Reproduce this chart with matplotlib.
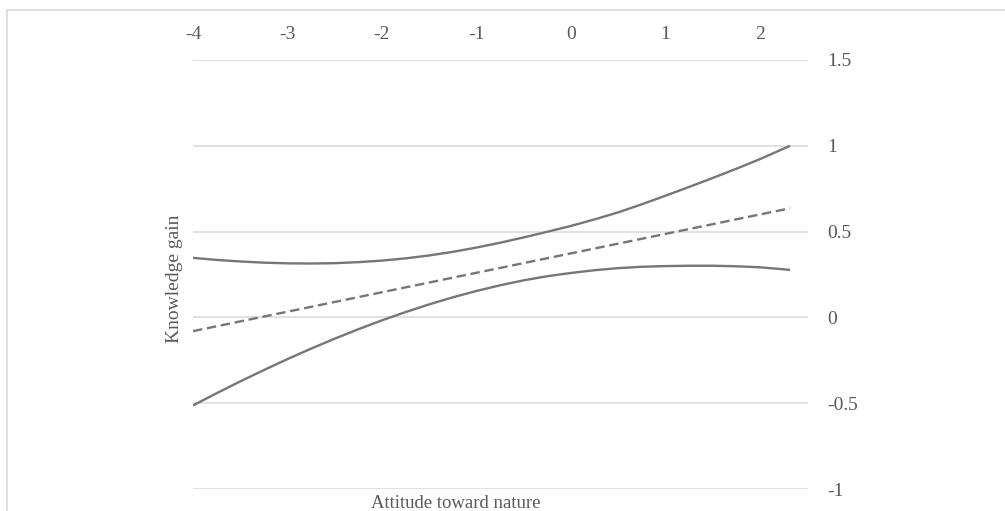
import matplotlib
matplotlib.use("Agg")
import matplotlib.pyplot as plt
from matplotlib.patches import Rectangle

# data
x_band = [-4, -3.75, -3.5, -3.25, -3, -2.75, -2.5, -2.25, -2, -1.75, -1.5, -1.25, -1,
          -0.75, -0.5, -0.25, 0, 0.25, 0.5, 0.75, 1, 1.25, 1.5, 1.75, 2, 2.32]
upper  = [0.347, 0.335, 0.326, 0.319, 0.315, 0.314, 0.316, 0.322, 0.331, 0.344, 0.361, 0.382, 0.407,
          0.435, 0.466, 0.499, 0.533, 0.571, 0.612, 0.659, 0.709, 0.760, 0.812, 0.866, 0.922, 1.0]
lower  = [-0.513, -0.442, -0.373, -0.307, -0.243, -0.182, -0.124, -0.069, -0.017, 0.031, 0.076, 0.117, 0.154,
          0.187, 0.216, 0.240, 0.259, 0.275, 0.287, 0.295, 0.299, 0.301, 0.301, 0.298, 0.292, 0.277]
x_est  = [-4, 2.32]
est    = [-0.08, 0.636]

x_ticks = [-4, -3, -2, -1, 0, 1, 2]
y_ticks = [-1, -0.5, 0, 0.5, 1, 1.5]
y_labels = ["-1", "-0.5", "0", "0.5", "1", "1.5"]

plt.rcParams["font.family"] = ["Liberation Serif", "DejaVu Serif"]
plt.rcParams["axes.unicode_minus"] = False

TXT = "#595959"
LINE = "#767676"
GRID = "#d9d9d9"

fig = plt.figure(figsize=(10.05, 5.11), dpi=100)
fig.patches.append(Rectangle((7/1005, -0.1), 1.2, 1 - 10/511 + 0.1, transform=fig.transFigure,
                             fill=False, edgecolor=GRID, linewidth=1.2))

ax = fig.add_axes([193/1005, 1 - 489/511, (808 - 193)/1005, (489 - 60)/511])
ax.plot(x_band, upper, color=LINE, lw=1.7, solid_capstyle="butt")
ax.plot(x_band, lower, color=LINE, lw=1.7, solid_capstyle="butt")
ax.plot(x_est, est, color=LINE, lw=1.7, dashes=(4, 2))

ax.set_xlim(-4, 2.51)
ax.set_ylim(-1, 1.5)
ax.set_xticks(x_ticks)
ax.set_xticklabels([str(v) for v in x_ticks])
ax.set_yticks(y_ticks)
ax.set_yticklabels(y_labels)
ax.xaxis.tick_top()
ax.yaxis.tick_right()
ax.tick_params(axis="x", length=0, pad=12, labelsize=14, labelcolor=TXT)
ax.tick_params(axis="y", length=0, pad=14, labelsize=14, labelcolor=TXT)
for s in ax.spines.values():
    s.set_visible(False)
ax.grid(axis="y", color=GRID, lw=1.1)
ax.set_axisbelow(True)

fig.text(174/1005, 1 - 279/511, "Knowledge gain", rotation=90, ha="center", va="center",
         fontsize=14, color=TXT)
fig.text(456/1005, 1 - 503/511, "Attitude toward nature", ha="center", va="center",
         fontsize=13.5, color=TXT)

fig.savefig("out.png", dpi=100)
